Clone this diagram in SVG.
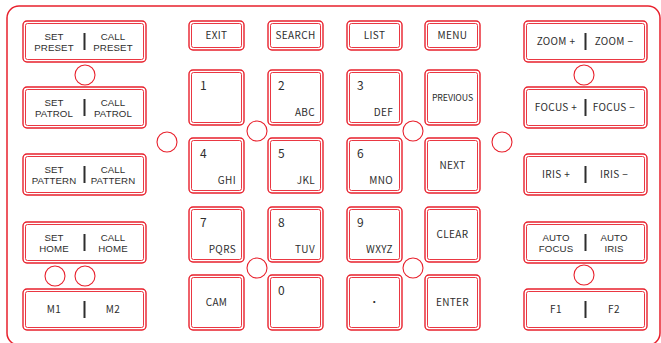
<svg xmlns="http://www.w3.org/2000/svg" width="661" height="343" viewBox="0 0 661 343">
<defs>
<style>
.frame{fill:none;stroke:#e8202c;stroke-width:1.5}
.ko{fill:#fff;stroke:#e8202c;stroke-width:1.4}
.ki{fill:none;stroke:#e8202c;stroke-width:0.9}
.dot{fill:none;stroke:#e8202c;stroke-width:1.1}
.t{font-family:"Noto Sans CJK SC","Noto Sans",sans-serif;font-size:10px;fill:#2e2e2e;text-anchor:middle;letter-spacing:0.35px}
.t2{font-family:"Liberation Sans",Arial,sans-serif;font-size:9.7px;fill:#2e2e2e;text-anchor:middle;letter-spacing:0.1px}
.n{font-family:"Noto Sans CJK SC","Noto Sans",sans-serif;font-size:12px;fill:#2e2e2e}
.l{font-family:"Noto Sans CJK SC","Noto Sans",sans-serif;font-size:10px;fill:#2e2e2e;text-anchor:end;letter-spacing:0.35px}
.bar{fill:#2e2e2e}
</style>
</defs>
<rect class="frame" x="7" y="6" width="653" height="339" rx="12"/>

<g id="left-column">
<g id="btn-preset"><rect class="ko" x="23" y="21" width="123" height="41" rx="4"/><rect class="ki" x="25.5" y="23.5" width="118" height="36" rx="2"/><text class="t2"><tspan x="54" y="39.5">SET</tspan><tspan x="54" dy="11.3">PRESET</tspan></text><rect class="bar" x="83.5" y="33" width="2" height="17"/><text class="t2"><tspan x="113" y="39.5">CALL</tspan><tspan x="113" dy="11.3">PRESET</tspan></text></g>
<g id="btn-patrol"><rect class="ko" x="23" y="87" width="123" height="41" rx="4"/><rect class="ki" x="25.5" y="89.5" width="118" height="36" rx="2"/><text class="t2"><tspan x="54" y="105.5">SET</tspan><tspan x="54" dy="11.3">PATROL</tspan></text><rect class="bar" x="83.5" y="99" width="2" height="17"/><text class="t2"><tspan x="113" y="105.5">CALL</tspan><tspan x="113" dy="11.3">PATROL</tspan></text></g>
<g id="btn-pattern"><rect class="ko" x="23" y="154" width="123" height="41" rx="4"/><rect class="ki" x="25.5" y="156.5" width="118" height="36" rx="2"/><text class="t2"><tspan x="54" y="172.5">SET</tspan><tspan x="54" dy="11.3">PATTERN</tspan></text><rect class="bar" x="83.5" y="166" width="2" height="17"/><text class="t2"><tspan x="113" y="172.5">CALL</tspan><tspan x="113" dy="11.3">PATTERN</tspan></text></g>
<g id="btn-home"><rect class="ko" x="23" y="222" width="123" height="41" rx="4"/><rect class="ki" x="25.5" y="224.5" width="118" height="36" rx="2"/><text class="t2"><tspan x="54" y="240.5">SET</tspan><tspan x="54" dy="11.3">HOME</tspan></text><rect class="bar" x="83.5" y="234" width="2" height="17"/><text class="t2"><tspan x="113" y="240.5">CALL</tspan><tspan x="113" dy="11.3">HOME</tspan></text></g>
<g id="btn-m"><rect class="ko" x="23" y="289" width="123" height="41" rx="4"/><rect class="ki" x="25.5" y="291.5" width="118" height="36" rx="2"/><text class="t" x="54" y="313">M1</text><rect class="bar" x="83.5" y="301" width="2" height="17"/><text class="t" x="113" y="313">M2</text></g>
</g>

<g id="right-column">
<g id="btn-zoom"><rect class="ko" x="524" y="21" width="123" height="41" rx="4"/><rect class="ki" x="526.5" y="23.5" width="118" height="36" rx="2"/><text class="t" x="556" y="45">ZOOM +</text><rect class="bar" x="584.5" y="33" width="2" height="17"/><text class="t" x="614" y="45">ZOOM −</text></g>
<g id="btn-focus"><rect class="ko" x="524" y="87" width="123" height="41" rx="4"/><rect class="ki" x="526.5" y="89.5" width="118" height="36" rx="2"/><text class="t" x="556" y="111">FOCUS +</text><rect class="bar" x="584.5" y="99" width="2" height="17"/><text class="t" x="614" y="111">FOCUS −</text></g>
<g id="btn-iris"><rect class="ko" x="524" y="154" width="123" height="41" rx="4"/><rect class="ki" x="526.5" y="156.5" width="118" height="36" rx="2"/><text class="t" x="556" y="178">IRIS +</text><rect class="bar" x="584.5" y="166" width="2" height="17"/><text class="t" x="614" y="178">IRIS −</text></g>
<g id="btn-auto"><rect class="ko" x="524" y="222" width="123" height="41" rx="4"/><rect class="ki" x="526.5" y="224.5" width="118" height="36" rx="2"/><text class="t2"><tspan x="556" y="240.5">AUTO</tspan><tspan x="556" dy="11.3">FOCUS</tspan></text><rect class="bar" x="584.5" y="234" width="2" height="17"/><text class="t2"><tspan x="614" y="240.5">AUTO</tspan><tspan x="614" dy="11.3">IRIS</tspan></text></g>
<g id="btn-f"><rect class="ko" x="524" y="289" width="123" height="41" rx="4"/><rect class="ki" x="526.5" y="291.5" width="118" height="36" rx="2"/><text class="t" x="556" y="313">F1</text><rect class="bar" x="584.5" y="301" width="2" height="17"/><text class="t" x="614" y="313">F2</text></g>
</g>

<g id="top-row">
<g id="key-exit"><rect class="ko" x="189" y="21" width="55" height="29" rx="4"/><rect class="ki" x="191.5" y="23.5" width="50" height="24" rx="2"/><text class="t" x="216.5" y="38.5">EXIT</text></g>
<g id="key-search"><rect class="ko" x="268" y="21" width="55" height="29" rx="4"/><rect class="ki" x="270.5" y="23.5" width="50" height="24" rx="2"/><text class="t" x="295.5" y="38.5">SEARCH</text></g>
<g id="key-list"><rect class="ko" x="347" y="21" width="55" height="29" rx="4"/><rect class="ki" x="349.5" y="23.5" width="50" height="24" rx="2"/><text class="t" x="374.5" y="38.5">LIST</text></g>
<g id="key-menu"><rect class="ko" x="425" y="21" width="55" height="29" rx="4"/><rect class="ki" x="427.5" y="23.5" width="50" height="24" rx="2"/><text class="t" x="452.5" y="38.5">MENU</text></g>
</g>

<g id="keypad">
<g id="key-1"><rect class="ko" x="189" y="70" width="55" height="55" rx="4"/><rect class="ki" x="191.5" y="72.5" width="50" height="50" rx="2"/><text class="n" x="200" y="90">1</text></g>
<g id="key-2"><rect class="ko" x="268" y="70" width="55" height="55" rx="4"/><rect class="ki" x="270.5" y="72.5" width="50" height="50" rx="2"/><text class="n" x="278" y="90">2</text><text class="l" x="315" y="116">ABC</text></g>
<g id="key-3"><rect class="ko" x="347" y="70" width="55" height="55" rx="4"/><rect class="ki" x="349.5" y="72.5" width="50" height="50" rx="2"/><text class="n" x="357" y="90">3</text><text class="l" x="393" y="116">DEF</text></g>
<g id="key-previous"><rect class="ko" x="425" y="70" width="55" height="55" rx="4"/><rect class="ki" x="427.5" y="72.5" width="50" height="50" rx="2"/><text class="t" x="452.5" y="101" style="font-size:8.8px;letter-spacing:-0.1px">PREVIOUS</text></g>

<g id="key-4"><rect class="ko" x="189" y="138" width="55" height="55" rx="4"/><rect class="ki" x="191.5" y="140.5" width="50" height="50" rx="2"/><text class="n" x="200" y="158">4</text><text class="l" x="236" y="184">GHI</text></g>
<g id="key-5"><rect class="ko" x="268" y="138" width="55" height="55" rx="4"/><rect class="ki" x="270.5" y="140.5" width="50" height="50" rx="2"/><text class="n" x="278" y="158">5</text><text class="l" x="315" y="184">JKL</text></g>
<g id="key-6"><rect class="ko" x="347" y="138" width="55" height="55" rx="4"/><rect class="ki" x="349.5" y="140.5" width="50" height="50" rx="2"/><text class="n" x="357" y="158">6</text><text class="l" x="393" y="184">MNO</text></g>
<g id="key-next"><rect class="ko" x="425" y="138" width="55" height="55" rx="4"/><rect class="ki" x="427.5" y="140.5" width="50" height="50" rx="2"/><text class="t" x="452.5" y="169">NEXT</text></g>

<g id="key-7"><rect class="ko" x="189" y="207" width="55" height="55" rx="4"/><rect class="ki" x="191.5" y="209.5" width="50" height="50" rx="2"/><text class="n" x="200" y="227">7</text><text class="l" x="236" y="253">PQRS</text></g>
<g id="key-8"><rect class="ko" x="268" y="207" width="55" height="55" rx="4"/><rect class="ki" x="270.5" y="209.5" width="50" height="50" rx="2"/><text class="n" x="278" y="227">8</text><text class="l" x="315" y="253">TUV</text></g>
<g id="key-9"><rect class="ko" x="347" y="207" width="55" height="55" rx="4"/><rect class="ki" x="349.5" y="209.5" width="50" height="50" rx="2"/><text class="n" x="357" y="227">9</text><text class="l" x="393" y="253">WXYZ</text></g>
<g id="key-clear"><rect class="ko" x="425" y="207" width="55" height="55" rx="4"/><rect class="ki" x="427.5" y="209.5" width="50" height="50" rx="2"/><text class="t" x="452.5" y="238">CLEAR</text></g>

<g id="key-cam"><rect class="ko" x="189" y="275" width="55" height="55" rx="4"/><rect class="ki" x="191.5" y="277.5" width="50" height="50" rx="2"/><text class="t" x="216.5" y="306">CAM</text></g>
<g id="key-0"><rect class="ko" x="268" y="275" width="55" height="55" rx="4"/><rect class="ki" x="270.5" y="277.5" width="50" height="50" rx="2"/><text class="n" x="278" y="295">0</text></g>
<g id="key-dot"><rect class="ko" x="347" y="275" width="55" height="55" rx="4"/><rect class="ki" x="349.5" y="277.5" width="50" height="50" rx="2"/><text class="t" x="374.5" y="306">•</text></g>
<g id="key-enter"><rect class="ko" x="425" y="275" width="55" height="55" rx="4"/><rect class="ki" x="427.5" y="277.5" width="50" height="50" rx="2"/><text class="t" x="452.5" y="306">ENTER</text></g>
</g>

<g id="indicators">
<circle class="dot" cx="85" cy="75" r="10"/>
<circle class="dot" cx="55" cy="276" r="10"/>
<circle class="dot" cx="85" cy="276" r="10"/>
<circle class="dot" cx="167" cy="142" r="10"/>
<circle class="dot" cx="257" cy="131" r="10"/>
<circle class="dot" cx="413" cy="131" r="10"/>
<circle class="dot" cx="502" cy="142" r="10"/>
<circle class="dot" cx="257" cy="268" r="10"/>
<circle class="dot" cx="413" cy="268" r="10"/>
<circle class="dot" cx="584" cy="75" r="10"/>
<circle class="dot" cx="584" cy="275" r="10"/>
</g>
<g id="connectors"/>
</svg>
